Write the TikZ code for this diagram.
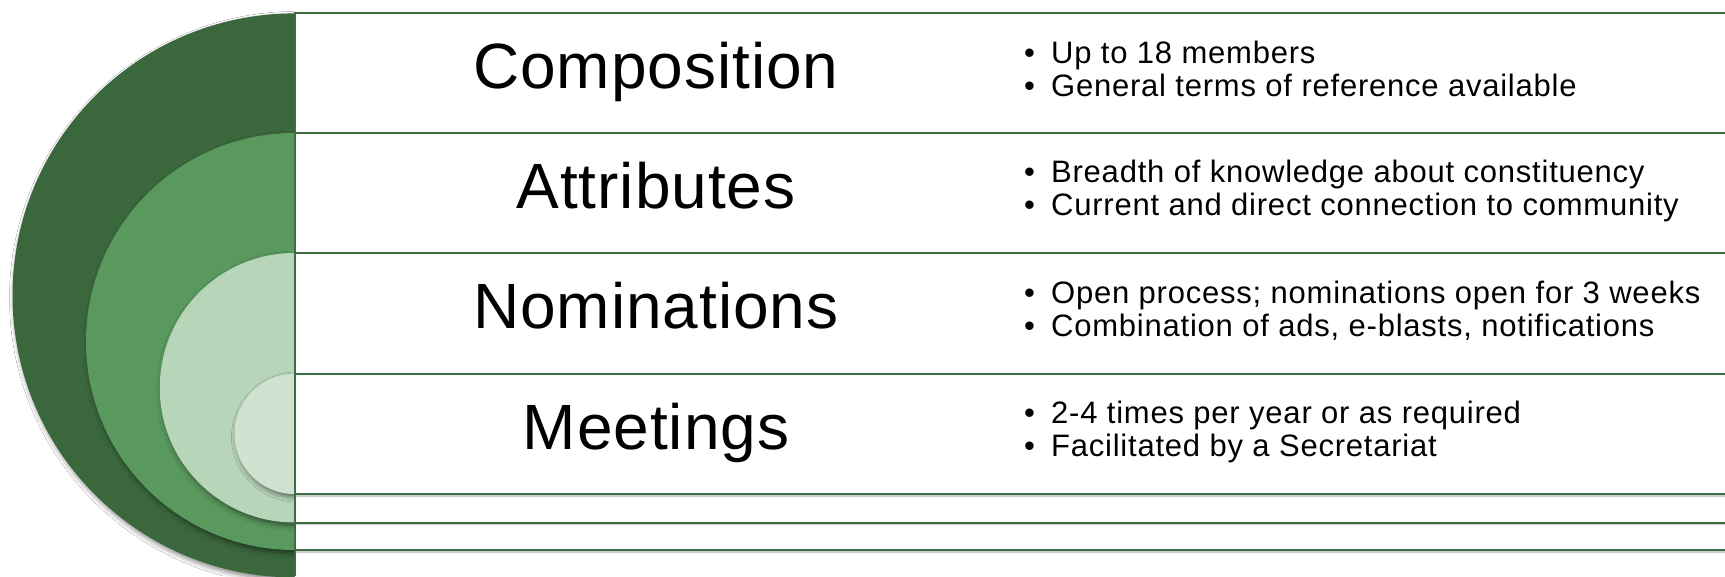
\documentclass[tikz,border=0pt]{standalone}
\usepackage{fontspec}
\setmainfont{Liberation Sans}
\newfontfamily\titlefont{Liberation Sans}[LetterSpace=1.5]
\newfontfamily\bodyfont{Liberation Sans}[LetterSpace=2.5]
\usetikzlibrary{shadows.blur}
\definecolor{gdark}{RGB}{59,103,61}
\definecolor{gmed}{RGB}{90,153,94}
\definecolor{glight}{RGB}{183,213,185}
\definecolor{gpale}{RGB}{208,227,209}
\definecolor{gline}{RGB}{62,108,65}
\newcommand{\bul}{\makebox[27pt][l]{\textbullet}}
\begin{document}
\begin{tikzpicture}[x=1pt,y=-1pt,
  rowline/.style={draw=gline, line width=2pt},
  titletext/.style={anchor=base, inner sep=0pt, font=\titlefont\fontsize{64}{70}\selectfont},
  bullettext/.style={anchor=base west, inner sep=0pt, font=\bodyfont\fontsize{31}{34}\selectfont},
  disc/.style={blur shadow={shadow xshift=2pt, shadow yshift=-3pt, shadow blur radius=5pt, shadow opacity=50}}
]
\useasboundingbox[fill=white] (0,0) rectangle (1725,576);
\begin{scope}
  \clip (0,0) rectangle (294.5,576);
  \fill[gdark, disc] (294.5,295.4) circle[radius=282pt];
  \fill[gmed, disc] (294.5,341.5) circle[radius=208.5pt];
  \fill[glight, disc] (294.5,387.75) circle[radius=134.75pt];
  \fill[gpale, disc] (294.5,434) circle[radius=60pt];
\end{scope}
\foreach \yy in {494,522.5,550}{
  \draw[gray!40, line width=1.5pt] (294.5,\yy+2) -- (1725,\yy+2);
}
\foreach \yy in {13.2,133,253,374,494,522.5,550}{
  \draw[rowline] (294.5,\yy) -- (1725,\yy);
}
\draw[rowline] (294.5,12.2) -- (294.5,576);
% titles
\node[titletext] (t1) at (656,88) {Composition};
\node[titletext] (t2) at (656,208) {Attributes};
\node[titletext] (t3) at (656,328.5) {Nominations};
\node[titletext] (t4) at (656,449) {Meetings};
% bullets
\node[bullettext] (b1a) at (1024,63.3) {\bul Up to 18 members};
\node[bullettext] (b1b) at (1024,96.7) {\bul General terms of reference available};
\node[bullettext] (b2a) at (1024,182.5) {\bul Breadth of knowledge about constituency};
\node[bullettext] (b2b) at (1024,215.9) {\bul Current and direct connection to community};
\node[bullettext] (b3a) at (1024,303) {\bul Open process; nominations open for 3 weeks};
\node[bullettext] (b3b) at (1024,336.4) {\bul Combination of ads, e-blasts, notifications};
\node[bullettext] (b4a) at (1024,423.5) {\bul 2-4 times per year or as required};
\node[bullettext] (b4b) at (1024,456.9) {\bul Facilitated by a Secretariat};
\end{tikzpicture}
\end{document}
